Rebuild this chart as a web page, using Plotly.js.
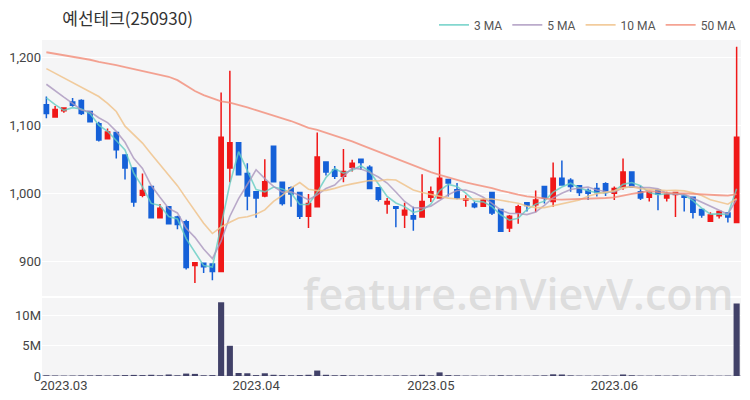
<!DOCTYPE html>
<html>
<head>
<meta charset="utf-8">
<script src="https://cdn.plot.ly/plotly-3.0.1.min.js"></script>
<style>
  html, body { margin: 0; padding: 0; background: #ffffff; }
  #chart { width: 750px; height: 400px; }
</style>
</head>
<body>
<div id="chart"></div>
<script>
const title = '예선테크(250930)';

const dates = [
  '2023-02-27','2023-02-28',
  '2023-03-02','2023-03-03','2023-03-06','2023-03-07','2023-03-08','2023-03-09','2023-03-10',
  '2023-03-13','2023-03-14','2023-03-15','2023-03-16','2023-03-17','2023-03-20','2023-03-21',
  '2023-03-22','2023-03-23','2023-03-24','2023-03-27','2023-03-28','2023-03-29','2023-03-30','2023-03-31',
  '2023-04-03','2023-04-04','2023-04-05','2023-04-06','2023-04-07','2023-04-10','2023-04-11',
  '2023-04-12','2023-04-13','2023-04-14','2023-04-17','2023-04-18','2023-04-19','2023-04-20',
  '2023-04-21','2023-04-24','2023-04-25','2023-04-26','2023-04-27','2023-04-28',
  '2023-05-01','2023-05-02','2023-05-03','2023-05-04','2023-05-08','2023-05-09','2023-05-10',
  '2023-05-11','2023-05-12','2023-05-15','2023-05-16','2023-05-17','2023-05-18','2023-05-19',
  '2023-05-22','2023-05-23','2023-05-24','2023-05-25','2023-05-26','2023-05-30','2023-05-31',
  '2023-06-01','2023-06-02','2023-06-05','2023-06-07','2023-06-08','2023-06-09','2023-06-12',
  '2023-06-13','2023-06-14','2023-06-15','2023-06-16','2023-06-19','2023-06-20','2023-06-21','2023-06-22'
];

const open  = [1130,1112,1121,1134,1136,1120,1102,1080,1089,1056,
               1037, 997,1010, 964, 980, 965, 958, 894, 897, 896,
                885,1037,1074,1029,1002, 996,1069,1016,1008,1001,
                966, 980,1046,1034,1025,1038,1050,1038,1008, 984,
                980, 968, 967, 965, 994, 993,1020,1005, 990, 984,
                981,1001, 976, 949, 972, 986, 983,1010, 988,1022,
               1019,1011,1004,1007,1014,1000,1009,1031,1002, 994,
               1005, 993, 998, 996, 994, 976, 959, 967, 971, 957];
const high  = [1142,1128,1126,1140,1138,1121,1105,1095,1090,1057,
               1038,1029,1011, 984, 981, 967, 961, 898, 898, 897,
               1148,1180,1075,1044,1003,1050,1070,1017,1010,1002,
                999,1089,1047,1040,1065,1049,1051,1041,1009, 993,
                981, 986, 980,1028,1010,1082,1021,1015, 997, 988,
                992,1002, 977, 968, 983, 987,1004,1011,1045,1048,
               1022,1012,1007,1015,1016,1010,1051,1032,1011,1002,
               1006,1002,1002, 998, 995, 976, 972, 974, 972,1215];
const low   = [1110,1111,1118,1127,1115,1104,1076,1079,1051,1020,
                980, 994, 963, 963, 954, 947, 888, 868, 883, 872,
                884,1016,1026, 975, 964, 994,1016, 982, 980, 962,
                949, 979,1026,1021,1016,1032,1034,1006, 988, 970,
                950, 949, 945, 964, 987, 992, 995, 991, 980, 978,
                980, 968, 943, 943, 955, 973, 972, 985, 980,1011,
               1002, 996, 990, 995, 996, 990,1005,1008, 990, 988,
                975, 988, 965, 973, 963, 964, 958, 963, 957, 956];
const close = [1117,1123,1125,1129,1117,1105,1078,1090,1064,1037,
                987,1004, 964, 978, 955, 954, 891, 898, 892, 885,
               1082,1074,1027, 996, 993,1017,1017, 985, 999, 966,
                985,1053,1031,1025,1032,1044,1045,1007, 991, 988,
                978, 975, 962, 988,1002,1022,1015, 993, 992, 980,
                990, 971, 944, 966, 980, 982, 990, 993,1022,1012,
               1010,1001,1000,1001,1001,1007,1031,1009, 993,1001,
                999, 998,1001, 994, 972, 968, 968, 973, 965,1082];
// volume in millions of shares
const volumeM = [0.12,0.08,0.06,0.07,0.10,0.10,0.12,0.08,0.12,0.15,
                 0.18,0.15,0.20,0.12,0.25,0.12,0.40,0.35,0.12,0.15,
                 12.2,5.0,0.50,0.45,0.15,0.45,0.20,0.15,0.12,0.15,
                 0.20,0.90,0.20,0.12,0.15,0.10,0.10,0.12,0.10,0.08,
                 0.10,0.10,0.10,0.20,0.10,0.60,0.15,0.10,0.06,0.06,
                 0.05,0.08,0.12,0.08,0.08,0.05,0.08,0.10,0.28,0.25,
                 0.10,0.06,0.05,0.06,0.08,0.05,0.25,0.12,0.06,0.05,
                 0.08,0.05,0.08,0.05,0.08,0.05,0.06,0.04,0.05,12.0];

const ma3Head  = [1140,1130];
const ma5Head  = [1160,1150,1141,1132];
const ma10Head = [1183,1176,1169,1162,1156,1149,1142,1132,1120];
const ma50Head = [1207,1205,1203,1201,1199,1196,1193,1191,1188,1185,
                  1182,1180,1177,1174,1171,1166,1158,1150,1144,1139,
                  1135,1133,1130,1126,1122,1118,1115,1110,1106,1101,
                  1096,1093,1089,1084,1080,1076,1071,1066,1060,1055,
                  1050,1046,1041,1036,1031,1027,1023,1019,1016];

const tickVals = ['2023-03-02','2023-04-03','2023-05-01','2023-06-01'];
const tickText = ['2023.03','2023.04','2023.05','2023.06'];

function movingAverage(src, n, head) {
  return src.map((_, i) => {
    if (i < n - 1) return head[i];
    let s = 0;
    for (let k = i - n + 1; k <= i; k++) s += src[k];
    return s / n;
  });
}

const RED = '#f01818';
const BLUE = '#1560d8';
const FONT = 'Roboto, "Noto Sans CJK KR", "Noto Sans", sans-serif';

const traces = [
  {
    type: 'candlestick', x: dates, open: open, high: high, low: low, close: close,
    xaxis: 'x', yaxis: 'y', showlegend: false, hoverinfo: 'skip',
    increasing: {line: {color: RED, width: 1.5}, fillcolor: RED},
    decreasing: {line: {color: BLUE, width: 1.5}, fillcolor: BLUE},
    whiskerwidth: 0
  },
  {type: 'scatter', mode: 'lines', name: '3 MA', x: dates, y: movingAverage(close, 3, ma3Head),
   line: {color: 'rgba(100,205,195,0.8)', width: 1.6}, xaxis: 'x', yaxis: 'y'},
  {type: 'scatter', mode: 'lines', name: '5 MA', x: dates, y: movingAverage(close, 5, ma5Head),
   line: {color: 'rgba(170,150,190,0.8)', width: 1.6}, xaxis: 'x', yaxis: 'y'},
  {type: 'scatter', mode: 'lines', name: '10 MA', x: dates, y: movingAverage(close, 10, ma10Head),
   line: {color: 'rgba(240,195,140,0.85)', width: 1.6}, xaxis: 'x', yaxis: 'y'},
  {type: 'scatter', mode: 'lines', name: '50 MA', x: dates, y: movingAverage(close, 50, ma50Head),
   line: {color: 'rgba(242,140,120,0.8)', width: 1.8}, xaxis: 'x', yaxis: 'y'},
  {type: 'bar', x: dates, y: volumeM.map(v => v * 1e6), xaxis: 'x2', yaxis: 'y2',
   marker: {color: '#414168'}, showlegend: false, hoverinfo: 'skip'}
];

const layout = {
  width: 750, height: 400,
  margin: {l: 42, r: 9, t: 40, b: 24, autoexpand: false},
  paper_bgcolor: '#ffffff',
  plot_bgcolor: '#f5f5f6',
  font: {family: FONT, size: 12, color: '#444'},
  showlegend: true,
  legend: {orientation: 'h', x: 1, xanchor: 'right', y: 1.045, yanchor: 'middle',
           font: {size: 12, color: '#555'}, bgcolor: 'rgba(0,0,0,0)', itemwidth: 30,
           traceorder: 'normal'},
  bargap: 0.3,
  xaxis: {type: 'category', domain: [0, 1], anchor: 'y', range: [-0.5, 79.5],
          rangeslider: {visible: false}, showticklabels: false, showgrid: false,
          zeroline: false, showline: false, ticks: '', tickvals: tickVals},
  yaxis: {domain: [0.238, 1], range: [849, 1225], tickvals: [900, 1000, 1100, 1200],
          tickformat: ',d', gridcolor: '#ffffff', gridwidth: 1, zeroline: false,
          showline: false, ticks: '', tickfont: {size: 13, color: '#444'}},
  xaxis2: {type: 'category', domain: [0, 1], anchor: 'y2', range: [-0.5, 79.5],
           tickvals: tickVals, ticktext: tickText, showgrid: false, zeroline: false,
           showline: false, ticks: '', tickfont: {size: 13, color: '#444'}},
  yaxis2: {domain: [0, 0.232], range: [0, 12.9e6], tickvals: [0, 5e6, 10e6],
           ticktext: ['0', '5M', '10M'], gridcolor: '#ffffff', zeroline: true,
           zerolinecolor: '#cfcfd8', zerolinewidth: 1, showline: false, ticks: '',
           tickfont: {size: 13, color: '#444'}},
  title: {text: title, x: 0.083, xanchor: 'left', y: 0.953, yanchor: 'middle',
          font: {size: 17, color: '#333', family: '"Noto Sans CJK KR", sans-serif'}},
  annotations: [
    {text: 'feature.enVievV.com', xref: 'paper', yref: 'paper', x: 0.681, y: 0.245,
     xanchor: 'center', yanchor: 'middle', showarrow: false,
     font: {size: 43, weight: 600, color: 'rgba(200,200,200,0.55)', family: '"Open Sans", sans-serif'}}
  ]
};

Plotly.newPlot('chart', traces, layout, {staticPlot: true, displayModeBar: false});
</script>
</body>
</html>
